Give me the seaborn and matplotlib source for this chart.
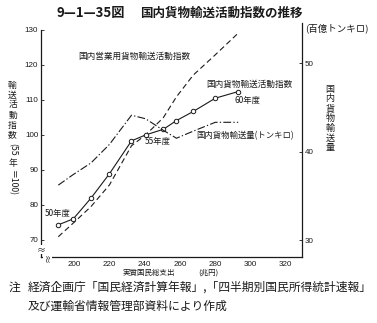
import matplotlib
matplotlib.use("Agg")
import matplotlib.pyplot as plt
import seaborn as sns
import pandas as pd

# 実質国民総支出 (兆円), 50年度〜60年度
gne = [191.0, 199.5, 209.5, 220.0, 232.5, 240.5, 250.5, 258.0, 267.5, 280.0, 293.0]
# 国内貨物輸送活動指数 (55年=100)
freight_index = [74.3, 76.0, 81.9, 88.9, 98.3, 100.0, 101.6, 104.1, 106.7, 110.5, 112.4]
# 国内営業用貨物輸送活動指数 (55年=100)
commercial_index = [70.9, 74.8, 79.5, 85.7, 96.9, 100.0, 104.9, 110.9, 117.1, 122.9, 129.1]
# 国内貨物輸送量 (百億トンキロ)
ton_km = [36.2, 37.4, 38.7, 40.8, 44.1, 43.7, 42.4, 41.5, 42.3, 43.3, 43.3]

x_ticks = [200, 220, 240, 260, 280, 300, 320]
left_ticks = [70, 80, 90, 100, 110, 120, 130]
right_ticks = [30, 40, 50]

df = pd.DataFrame({"gne": gne, "freight": freight_index,
                   "commercial": commercial_index, "tonkm": ton_km})

sns.set_theme(style="white")
plt.rcParams["font.family"] = ["Noto Sans CJK JP", "DejaVu Sans"]
INK = "#1a1a1a"

W, H = 377, 323
fig = plt.figure(figsize=(W / 100, H / 100), dpi=100)
ax = fig.add_axes([41 / W, 1 - 257 / H, (301.7 - 41) / W, (257 - 23) / H])
ax2 = ax.twinx()

def ftext(x, y, s, **kw):
    kw.setdefault("color", INK)
    return fig.text(x / W, 1 - y / H, s, **kw)

lw = 0.8
sns.lineplot(data=df, x="gne", y="commercial", ax=ax, color=INK, lw=lw,
             linestyle=(0, (5, 3)), sort=False)
sns.lineplot(data=df, x="gne", y="freight", ax=ax, color=INK, lw=lw,
             marker="o", markersize=3.2, markerfacecolor="white",
             markeredgecolor=INK, markeredgewidth=0.7, sort=False)
sns.lineplot(data=df, x="gne", y="tonkm", ax=ax2, color=INK, lw=lw,
             linestyle=(0, (7, 2, 1.2, 2)), sort=False)

ax.set_xlim(181.2, 329)
ax.set_ylim(65.1, 132.0)
ax2.set_ylim(28.08, 54.52)

ax.set_xticks(x_ticks)
ax.set_xticklabels([str(v) for v in x_ticks])
ax.set_yticks(left_ticks)
ax.set_yticklabels([str(v) for v in left_ticks])
ax2.set_yticks(right_ticks)
ax2.set_yticklabels([str(v) for v in right_ticks])

for a in (ax, ax2):
    a.set_xlabel("")
    a.set_ylabel("")
    a.grid(False)
    for s in a.spines.values():
        s.set_color(INK)
        s.set_linewidth(0.9)
    a.spines["top"].set_visible(False)

ax.spines["right"].set_visible(False)
ax.spines["left"].set_bounds(65.1, 130)
ax2.spines["left"].set_visible(False)
ax2.spines["bottom"].set_visible(False)

tick_font = dict(labelsize=5.8, labelcolor=INK, colors=INK)
ax.tick_params(axis="x", direction="in", length=2, width=0.6, pad=3, **tick_font)
ax.tick_params(axis="y", direction="in", length=2.5, width=0.6, pad=2, **tick_font)
ax2.tick_params(axis="y", direction="in", length=2.5, width=0.6, pad=2, **tick_font)
for lab in ax.get_xticklabels() + ax.get_yticklabels() + ax2.get_yticklabels():
    lab.set_fontfamily(["Liberation Sans", "DejaVu Sans"])

# axis breaks near the origin
ftext(41, 249.5, "≈", fontsize=6.5, ha="center", va="center",
      bbox=dict(fc="white", ec="none", pad=0.2))
ftext(47.5, 257, "≈", fontsize=6.5, ha="center", va="center", rotation=90,
      bbox=dict(fc="white", ec="none", pad=0.2))

# title
ftext(57, 13, "9—1—35図", fontsize=9.5, fontweight="bold", ha="left", va="center")
ftext(140, 13, "国内貨物輸送活動指数の推移", fontsize=9, fontweight="bold",
      ha="left", va="center")

# left axis label, written vertically
tokens = [("輸", 85, 0), ("送", 95, 0), ("活", 105, 0), ("動", 115, 0),
          ("指", 125, 0), ("数", 135, 0), ("(55", 149, -90), ("年", 163, 0),
          ("＝100)", 183, -90)]
for s, yy, rot in tokens:
    ftext(12.5, yy, s, fontsize=6.3, ha="center", va="center", rotation=rot)

# right axis label and unit
for i, ch in enumerate("国内貨物輸送量"):
    ftext(330, 89 + i * 9.8, ch, fontsize=6.5, ha="center", va="center")
ftext(305, 28, "(百億トンキロ)", fontsize=6.8, ha="left", va="center")

# x axis label
ftext(123, 273, "実質国民総支出", fontsize=5.4, ha="left", va="center")
ftext(198, 273, "(兆円)", fontsize=5.4, ha="left", va="center")

# series labels
ftext(78, 56, "国内営業用貨物輸送活動指数", fontsize=6.2, ha="left", va="center")
ftext(206, 84, "国内貨物輸送活動指数", fontsize=6.2, ha="left", va="center")
ftext(196, 136, "国内貨物輸送量(トンキロ)", fontsize=6.0, ha="left", va="center")
ftext(45, 213, "50年度", fontsize=6.0, ha="left", va="center")
ftext(145, 141, "55年度", fontsize=6.0, ha="left", va="center")
ftext(235, 100, "60年度", fontsize=6.0, ha="left", va="center")

# notes
ftext(9, 287, "注", fontsize=8.5, ha="left", va="center")
ftext(28, 287, "経済企画庁「国民経済計算年報」,「四半期別国民所得統計速報」",
      fontsize=8.5, ha="left", va="center")
ftext(28, 306, "及び運輸省情報管理部資料により作成", fontsize=8.5,
      ha="left", va="center")

fig.savefig("out.png", dpi=100, facecolor="white")
